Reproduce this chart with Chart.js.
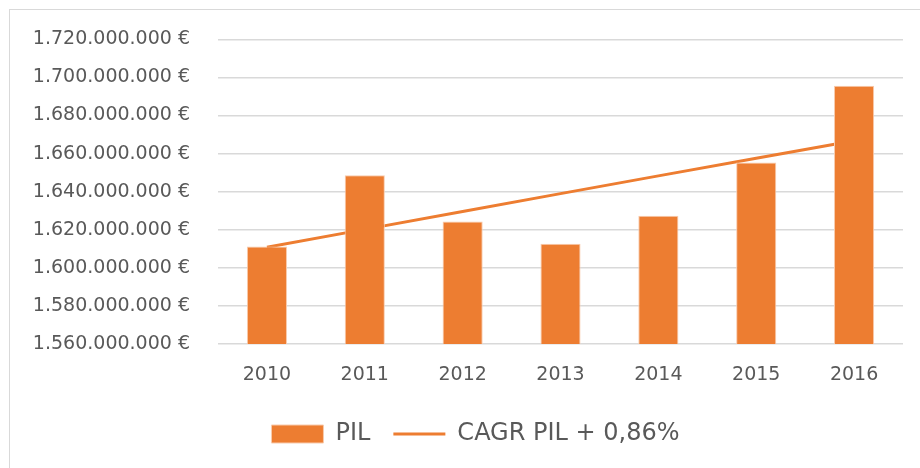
<!DOCTYPE html>
<html>
<head>
<meta charset="utf-8">
<script src="https://cdn.jsdelivr.net/npm/chart.js@4/dist/chart.umd.min.js"></script>
<style>
  html, body { margin: 0; padding: 0; background: #fff; overflow: hidden; }
  #wrap { position: relative; width: 920px; height: 468px; }
  #frame { position: absolute; left: 9px; top: 9px; width: 1000px; height: 1000px; border: 1px solid #d9d9d9; }
  #chart { position: absolute; left: 0; top: 0; }
</style>
</head>
<body>
<div id="wrap">
  <div id="frame"></div>
  <canvas id="chart" width="920" height="468"></canvas>
</div>
<script>
// Dati (PIL in euro)
var years = ['2010', '2011', '2012', '2013', '2014', '2015', '2016'];
var pil = [1611200000, 1648600000, 1624400000, 1612600000, 1627400000, 1655300000, 1695600000];
var cagrPil = [1610800000, 1620200000, 1629600000, 1639000000, 1648300000, 1657600000, 1666800000];

var orange = '#ED7D31';
var textColor = '#595959';
var font = 'DejaVu Sans';

function formatEuro(v) {
    return String(v).replace(/\B(?=(\d{3})+(?!\d))/g, '.') + ' €';
}

// sposta la legenda un po' a destra, come nell'originale
var legendShift = {
    id: 'legendShift',
    afterLayout: function(chart) {
        chart.legend.left += 24;
        chart.legend.right += 24;
    }
};

function createChart() {
    var ctx = document.getElementById('chart').getContext('2d');

    var chart = new Chart(ctx, {
        type: 'bar',
        data: {
            labels: years,
            datasets: [{
                label: 'PIL',
                data: pil,
                backgroundColor: orange,
                borderColor: '#F8CBAD',
                borderWidth: 1,
                barPercentage: 0.41,
                categoryPercentage: 1,
                pointStyle: 'rect'
            }, {
                type: 'line',
                label: 'CAGR PIL + 0,86%',
                data: cagrPil,
                borderColor: orange,
                backgroundColor: orange,
                borderWidth: 3,
                pointRadius: 0,
                pointStyle: 'line',
                tension: 0
            }]
        },
        options: {
            responsive: false,
            animation: false,
            layout: {
                padding: { left: 0, right: 17, top: 37, bottom: 12 }
            },
            plugins: {
                tooltip: { enabled: false },
                legend: {
                    position: 'bottom',
                    labels: {
                        usePointStyle: true,
                        pointStyleWidth: 52,
                        boxHeight: 18,
                        padding: 23,
                        color: textColor,
                        font: { family: font, size: 24 }
                    }
                }
            },
            scales: {
                x: {
                    grid: { display: false },
                    border: { display: false },
                    ticks: {
                        color: textColor,
                        padding: 12,
                        font: { family: font, size: 19 }
                    },
                    afterFit: function(scale) { scale.height = 55; }
                },
                y: {
                    min: 1560000000,
                    max: 1720000000,
                    grid: { color: '#d9d9d9', lineWidth: 1.5, drawTicks: false },
                    border: { display: false },
                    ticks: {
                        stepSize: 20000000,
                        color: textColor,
                        padding: 28,
                        font: { family: font, size: 19 },
                        callback: function(value) { return formatEuro(value); }
                    },
                    afterFit: function(scale) { scale.width = 218; }
                }
            }
        },
        plugins: [legendShift]
    });
}

document.addEventListener('DOMContentLoaded', createChart);
</script>
</body>
</html>
